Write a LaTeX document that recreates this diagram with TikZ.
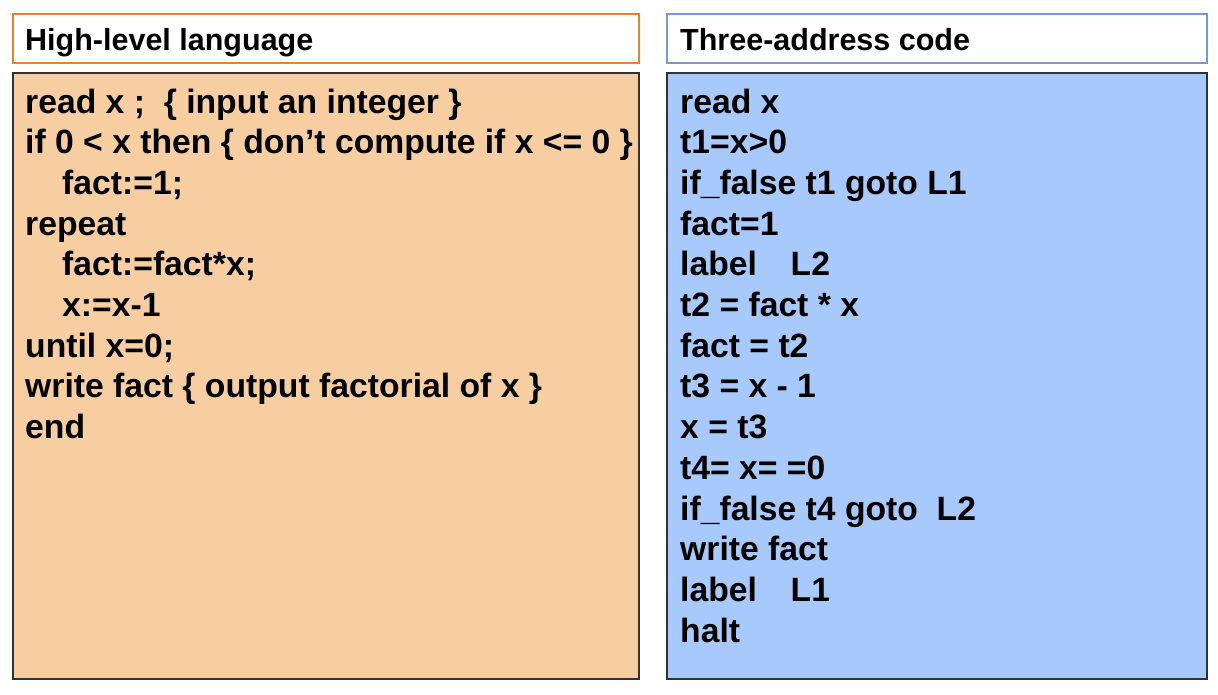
\documentclass[tikz,border=0pt]{standalone}
\usepackage{fontspec}
\setmainfont{Liberation Sans}
\definecolor{hlorange}{RGB}{230,130,52}
\definecolor{tacblue}{RGB}{122,152,206}
\definecolor{hlfill}{RGB}{247,206,161}
\definecolor{tacfill}{RGB}{167,201,252}
\definecolor{boxline}{RGB}{50,50,50}
\newcommand{\ind}{\hspace*{37pt}}
\tikzset{
  hdrbox/.style={rectangle,fill=white,line width=1.2pt,inner sep=0pt,outer sep=0pt,anchor=north west,minimum height=49pt},
  codebox/.style={rectangle,draw=boxline,line width=1.5pt,inner sep=0pt,outer sep=0pt,anchor=north west,minimum height=606pt},
  hdrtext/.style={anchor=base west,inner sep=0pt,font=\fontsize{30.5}{36}\selectfont\bfseries},
  codetext/.style={anchor=base west,inner sep=0pt,font=\fontsize{33.7}{40}\selectfont\bfseries}
}
\begin{document}
\begin{tikzpicture}[x=1pt,y=-1pt]
	\useasboundingbox (0,0) rectangle (1218,694);

	% Header
	\node[hdrbox,draw=hlorange,minimum width=626pt] (hlhead) at (13,14) {};
	\node[hdrbox,draw=tacblue,minimum width=540pt] (tachead) at (667,14) {};
	\node[hdrtext] (hltitle) at (25,50) {High-level language};
	\node[hdrtext] (tactitle) at (680,50) {Three-address code};

	% Boxes
	\node[codebox,fill=hlfill,minimum width=626pt] (hlbody) at (13,73) {};
	\node[codebox,fill=tacfill,minimum width=540pt] (tacbody) at (667,73) {};

	%Code
	\foreach \txt [count=\i] in {{read x ;~ \{ input an integer \}},
		{if 0 < x then \{ don’t compute if x <= 0 \}},
		{\ind fact:=1;},
		{repeat},
		{\ind fact:=fact*x;},
		{\ind x:=x-1},
		{until x=0;},
		{write fact \{ output factorial of x \}},
		{end}}
		\node[codetext] (hl\i) at (25,{113+40.7*(\i-1)}) {\txt};

	\foreach \txt [count=\i] in {{read x},
		{t1=x>0},
		{if\_false t1 goto L1},
		{fact=1},
		{label\quad L2},
		{t2 = fact * x},
		{fact = t2},
		{t3 = x - 1},
		{x = t3},
		{t4= x= =0},
		{if\_false t4 goto~ L2},
		{write fact},
		{label\quad L1},
		{halt}}
		\node[codetext] (tac\i) at (680,{113+40.7*(\i-1)}) {\txt};

\end{tikzpicture}
\end{document}
